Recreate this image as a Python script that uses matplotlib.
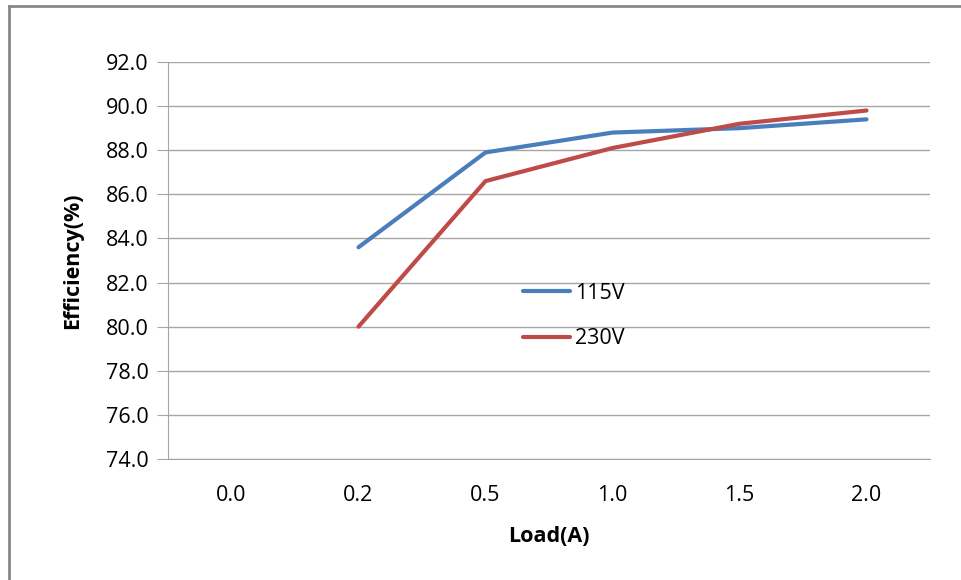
import matplotlib
matplotlib.use('Agg')
import matplotlib.pyplot as plt
import numpy as np

plt.rcParams['font.family'] = ['Open Sans', 'DejaVu Sans']

# data
loads = ['0.0', '0.2', '0.5', '1.0', '1.5', '2.0']
eff_115 = [np.nan, 83.6, 87.9, 88.8, 89.0, 89.4]
eff_230 = [np.nan, 80.0, 86.6, 88.1, 89.2, 89.8]
yticks = [74, 76, 78, 80, 82, 84, 86, 88, 90, 92]

fig = plt.figure(figsize=(9.61, 5.80), dpi=100)
ax = fig.add_axes([168/961, 1 - 459/580, (930-168)/961, (459-62)/580])

x = np.arange(len(loads))
ax.plot(x, eff_115, color='#4a7ebb', lw=3, solid_capstyle='round', label='115V')
ax.plot(x, eff_230, color='#be4b48', lw=3, solid_capstyle='round', label='230V')

ax.set_xlim(-0.5, len(loads) - 0.5)
ax.set_ylim(74, 92)
ax.set_xticks(x)
ax.set_xticklabels(loads)
ax.set_yticks(yticks)
ax.set_yticklabels([f'{v:.1f}' for v in yticks])
ax.yaxis.grid(True, color='#a6a6a6', lw=1)
ax.set_axisbelow(True)

for s in ['top', 'right']:
    ax.spines[s].set_visible(False)
ax.spines['left'].set_color('#a6a6a6')
ax.spines['bottom'].set_color('#a6a6a6')
ax.tick_params(axis='y', length=8, color='#a6a6a6', labelsize=15.5, pad=6)
ax.tick_params(axis='x', length=0, labelsize=15.5, pad=19)

ax.set_xlabel('Load(A)', fontsize=15.5, fontweight='bold', labelpad=14)
ax.set_ylabel('Efficiency(%)', fontsize=15.5, fontweight='bold', labelpad=16)

ax.legend(loc='upper left', bbox_to_anchor=(0.44, 0.493), frameon=False,
          fontsize=15.5, handlelength=2.2, handletextpad=0.25, labelspacing=1.15)

# outer chart border (top and left visible)
fig.add_artist(plt.Line2D([9/961, 1], [1 - 6/580, 1 - 6/580], color='#888888', lw=2))
fig.add_artist(plt.Line2D([9/961, 9/961], [0, 1 - 6/580], color='#888888', lw=2))

fig.savefig('out.png', dpi=100)
